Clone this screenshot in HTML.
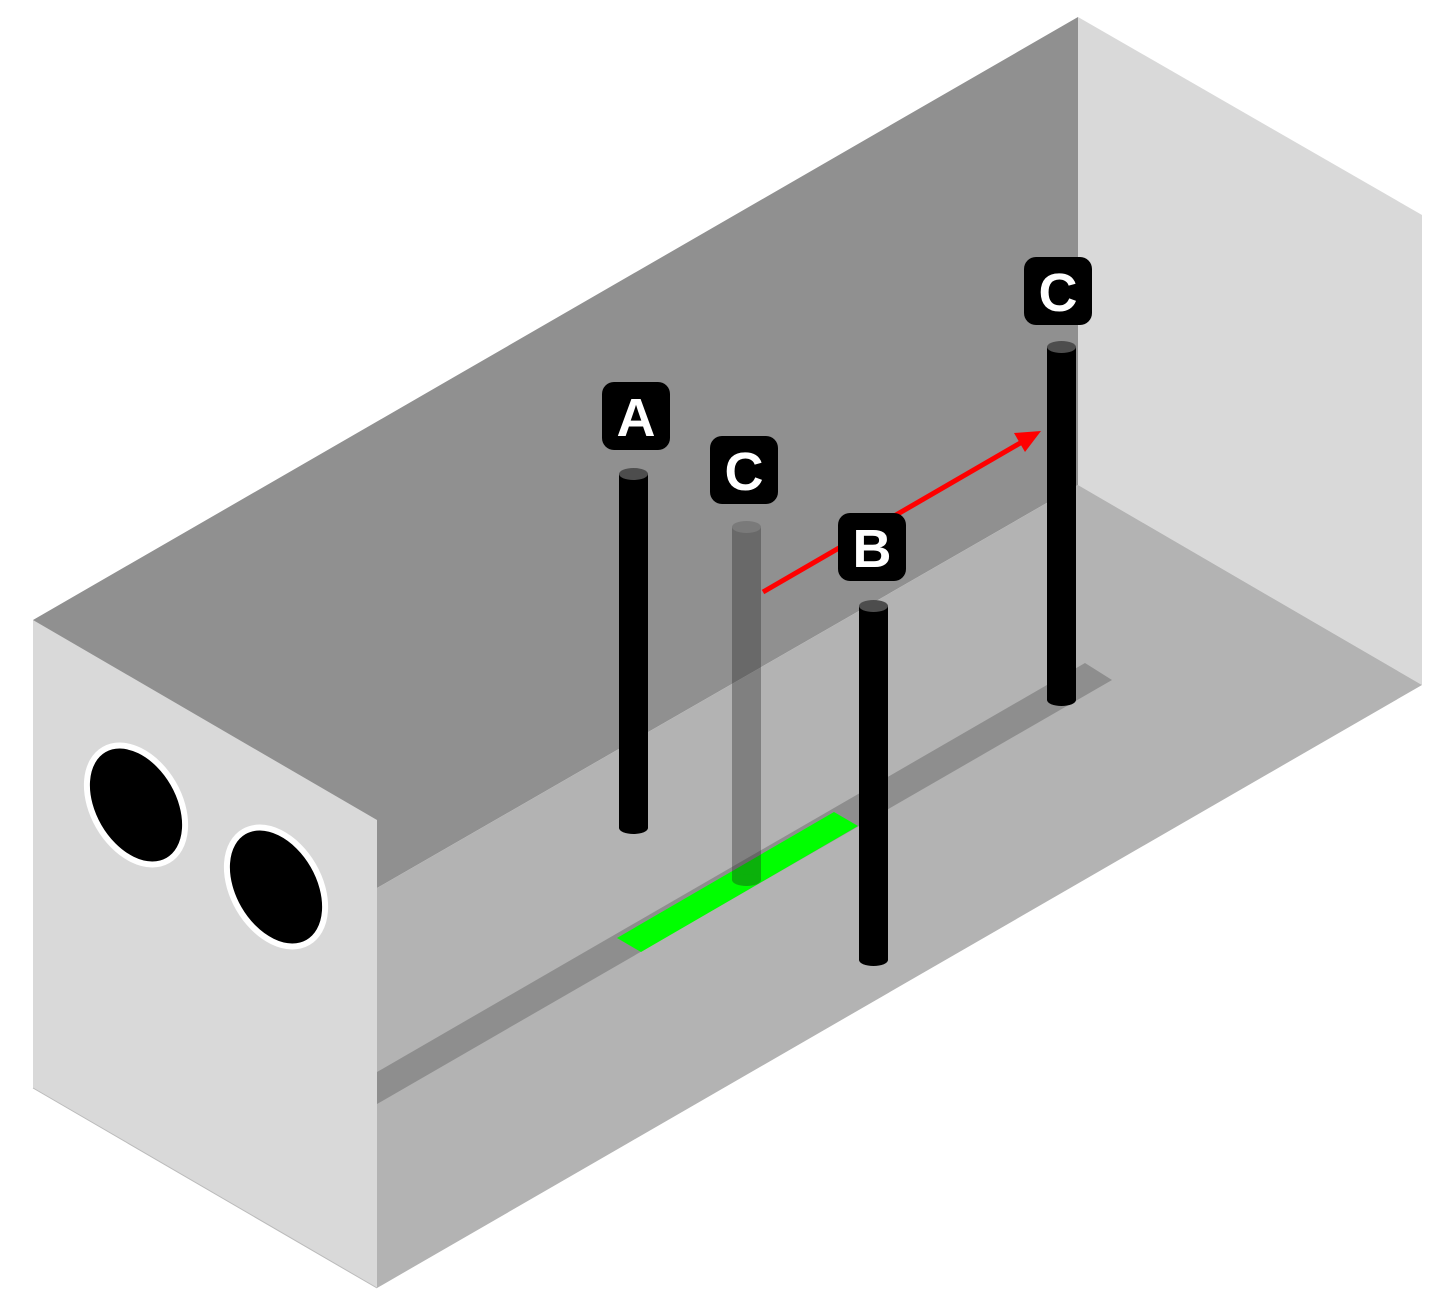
<!DOCTYPE html>
<html><head><style>html,body{margin:0;padding:0;background:#fff}svg{display:block}</style></head>
<body>
<svg width="1446" height="1304" viewBox="0 0 1446 1304" xmlns="http://www.w3.org/2000/svg">
<polygon points="33,620 1078,17 1078,485 377,888 33,1088" fill="#909090"/>
<polygon points="1078,17 1422,215 1422,685 1078,485" fill="#d9d9d9"/>
<polygon points="377,888 1078,485 1422,685 377,1288" fill="#b3b3b3"/>
<polygon points="377,1072 1085,663 1112,680 377,1104" fill="#8e8e8e"/>
<polygon points="617,938 834,812 858,826 641,952" fill="#00ff00"/>
<polygon points="33,620 377,820 377,1288 33,1088" fill="#d9d9d9"/>
<line x1="33" y1="1088" x2="377" y2="1288" stroke="#bbb" stroke-width="1"/>
<g transform="rotate(-30 136 805)"><ellipse cx="136" cy="805" rx="43" ry="64" fill="#000" stroke="#fff" stroke-width="6"/></g>
<g transform="rotate(-30 276 887)"><ellipse cx="276" cy="887" rx="43" ry="64" fill="#000" stroke="#fff" stroke-width="6"/></g>
<!-- pole A -->
<rect x="619" y="474" width="29" height="354" fill="#000"/>
<ellipse cx="633.5" cy="828" rx="14.5" ry="6" fill="#000"/>
<ellipse cx="633.5" cy="474" rx="14.5" ry="6" fill="#4d4d4d"/>
<!-- ghost pole C -->
<g opacity="0.35">
<rect x="732" y="527" width="29" height="353" fill="#222"/>
<ellipse cx="746.5" cy="880" rx="14.5" ry="6" fill="#222"/>
</g>
<ellipse cx="746.5" cy="527" rx="14.5" ry="6" fill="#7a7a7a"/>
<!-- red arrow -->
<line x1="763" y1="592" x2="1022" y2="442" stroke="#ff0000" stroke-width="5"/>
<polygon points="1041,431 1014,433 1025,452" fill="#ff0000"/>
<!-- pole B -->
<rect x="859" y="606" width="29" height="354" fill="#000"/>
<ellipse cx="873.5" cy="960" rx="14.5" ry="6" fill="#000"/>
<ellipse cx="873.5" cy="606" rx="14.5" ry="6" fill="#4d4d4d"/>
<!-- pole C right -->
<rect x="1047" y="347" width="29" height="353" fill="#000"/>
<ellipse cx="1061.5" cy="700" rx="14.5" ry="6" fill="#000"/>
<ellipse cx="1061.5" cy="347" rx="14.5" ry="6" fill="#4d4d4d"/>
<!-- labels -->
<g font-family="Liberation Sans, sans-serif" font-weight="bold" font-size="54" fill="#fff" text-anchor="middle">
<rect x="602" y="382" width="68" height="68" rx="12" fill="#000"/>
<text x="636" y="436">A</text>
<rect x="710" y="436" width="68" height="68" rx="12" fill="#000"/>
<text x="744" y="490">C</text>
<rect x="838" y="513" width="68" height="68" rx="12" fill="#000"/>
<text x="872" y="567">B</text>
<rect x="1024" y="257" width="68" height="68" rx="12" fill="#000"/>
<text x="1058" y="311">C</text>
</g>
</svg>
</body></html>
